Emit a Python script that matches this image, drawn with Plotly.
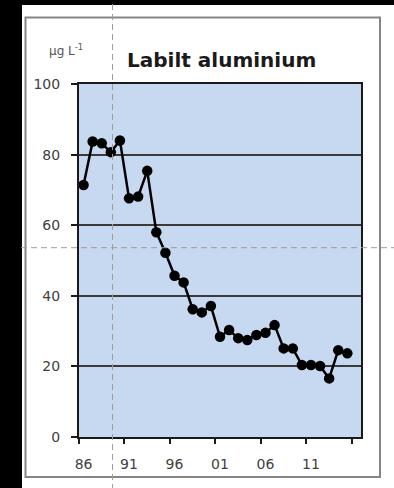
import plotly.graph_objects as go

# Annual mean of labile aluminium (µg/L), 1986-2015
years = list(range(1986, 2016))
labile_al = [71.4, 83.7, 83.2, 80.7, 84.0, 67.6, 68.1, 75.4, 58.0, 52.2,
             45.7, 43.8, 36.2, 35.3, 37.1, 28.4, 30.3, 28.0, 27.5, 28.9,
             29.5, 31.7, 25.1, 25.1, 20.4, 20.4, 20.1, 16.6, 24.6, 23.7]

label_years = [1986, 1991, 1996, 2001, 2006, 2011]
label_text = ["86", "91", "96", "01", "06", "11"]
boundary_ticks = [1985.5, 1990.5, 1995.5, 2000.5, 2005.5, 2010.5, 2015.5]
y_ticks = [0, 20, 40, 60, 80, 100]

W, H = 394, 488
ML, MR, MT, MB = 79, 33, 84, 51
PW, PH = W - ML - MR, H - MT - MB


def px_x(px):
    return (px - ML) / PW


def px_y(py):
    return (H - MB - py) / PH


fig = go.Figure()
fig.add_trace(go.Scatter(
    x=years, y=labile_al, mode="lines+markers",
    line=dict(color="black", width=2.5),
    marker=dict(color="black", size=10.5),
    hoverinfo="x+y", showlegend=False,
))

tick_font = dict(family="DejaVu Sans", size=14, color="#404040")

fig.update_xaxes(
    range=[1985.5, 2016.5], tickmode="array", tickvals=label_years,
    ticktext=label_text, ticks="outside", ticklen=13,
    tickcolor="rgba(0,0,0,0)", tickfont=tick_font,
    showgrid=False, zeroline=False,
    showline=True, linecolor="#1a1a1a", linewidth=2, mirror=True,
    minor=dict(tickmode="array", tickvals=boundary_ticks, ticks="outside",
               ticklen=5, tickwidth=1.5, tickcolor="#1a1a1a", showgrid=False),
)
fig.update_yaxes(
    range=[0, 100], tickmode="array", tickvals=y_ticks,
    ticks="outside", ticklen=6, tickwidth=1.5, tickcolor="#1a1a1a",
    tickfont=tick_font, ticklabelstandoff=8,
    showgrid=True, gridcolor="#3a3a3a", gridwidth=1.5, zeroline=False,
    showline=True, linecolor="#1a1a1a", linewidth=2, mirror=True,
)

shapes = [
    # dark surround on the left and top
    dict(type="rect", xref="paper", yref="paper", layer="above",
         x0=px_x(-5), x1=px_x(22), y0=px_y(H + 5), y1=px_y(-5),
         fillcolor="black", line=dict(width=0)),
    dict(type="rect", xref="paper", yref="paper", layer="above",
         x0=px_x(-5), x1=px_x(W + 5), y0=px_y(5), y1=px_y(-5),
         fillcolor="black", line=dict(width=0)),
    # panel frame
    dict(type="rect", xref="paper", yref="paper", layer="below",
         x0=px_x(25.5), x1=px_x(380), y0=px_y(477), y1=px_y(17.5),
         fillcolor="rgba(0,0,0,0)", line=dict(color="#858585", width=2)),
    # dashed guide lines
    dict(type="line", xref="paper", yref="paper", layer="above",
         x0=px_x(112.5), x1=px_x(112.5), y0=px_y(H + 2), y1=px_y(-2),
         line=dict(color="#a39c94", width=1, dash="6px,4px")),
    dict(type="line", xref="paper", yref="paper", layer="above",
         x0=px_x(21), x1=px_x(W + 2), y0=px_y(247.7), y1=px_y(247.7),
         line=dict(color="#a39c94", width=1, dash="6px,4px")),
]

annotations = [
    dict(text="<b>Labilt aluminium</b>", xref="paper", yref="paper",
         x=px_x(221.5), y=px_y(60), xanchor="center", yanchor="middle",
         showarrow=False,
         font=dict(family="DejaVu Sans", size=20, color="#1a1a1a")),
    dict(text="µg L<sup>-1</sup>", xref="paper", yref="paper",
         x=px_x(66), y=px_y(50), xanchor="center", yanchor="middle",
         showarrow=False,
         font=dict(family="DejaVu Sans", size=12, color="#555555")),
]

fig.update_layout(
    width=W, height=H,
    margin=dict(l=ML, r=MR, t=MT, b=MB, pad=0),
    paper_bgcolor="white", plot_bgcolor="#c6d9f0",
    shapes=shapes, annotations=annotations,
)

fig.write_html("out.html")
